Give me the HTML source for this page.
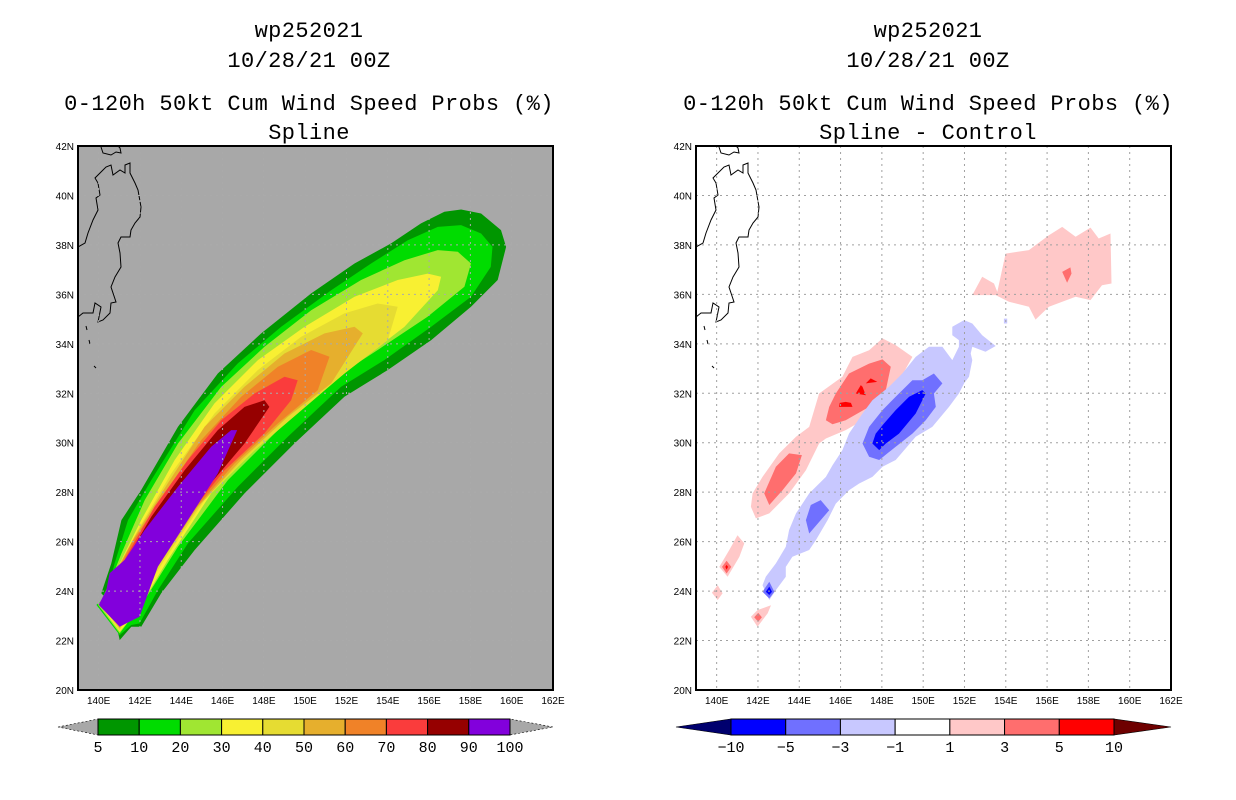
<!DOCTYPE html>
<html><head><meta charset="utf-8">
<style>
html,body{margin:0;padding:0;background:#fff;}
svg{display:block;}
text{font-family:"Liberation Mono","DejaVu Sans Mono",monospace;fill:#000;}
.ttl{font-size:22px;letter-spacing:0.4px;}
.tick{font-size:10px;font-family:"Liberation Sans",sans-serif;}
.cbl{font-size:15px;}
</style></head>
<body>
<svg id="root" width="1236" height="800" viewBox="0 0 1236 800" xmlns="http://www.w3.org/2000/svg">
<g>
<text class="ttl" x="309" y="37" text-anchor="middle">wp252021</text>
<text class="ttl" x="309" y="67" text-anchor="middle">10/28/21 00Z</text>
<text class="ttl" x="309" y="110" text-anchor="middle">0-120h 50kt Cum Wind Speed Probs (%)</text>
<text class="ttl" x="309" y="139" text-anchor="middle">Spline</text>
</g>
<g>
<text class="ttl" x="928" y="37" text-anchor="middle">wp252021</text>
<text class="ttl" x="928" y="67" text-anchor="middle">10/28/21 00Z</text>
<text class="ttl" x="928" y="110" text-anchor="middle">0-120h 50kt Cum Wind Speed Probs (%)</text>
<text class="ttl" x="928" y="139" text-anchor="middle">Spline - Control</text>
</g>
<g id="leftMap"></g>
<g id="rightMap"></g>
<g id="leftCb"></g>
<g id="rightCb"></g>
</svg>
<script>
// ---- data ----
const lonTicks = [140,142,144,146,148,150,152,154,156,158,160,162];
const latTicks = [20,22,24,26,28,30,32,34,36,38,40,42];
const probLevels = [5,10,20,30,40,50,60,70,80,90,100];
const probColors = ["#009600","#00dc00","#a0e632","#f8f032","#e6dc32","#e6af2d","#f08228","#fa3c3c","#960000","#8200dc"];
const diffLevels = [-10,-5,-3,-1,1,3,5,10];
const diffColors = ["#00006e","#0000ff","#7070ff","#c8c8ff","#ffffff","#ffc8c8","#ff6e6e","#ff0000","#6e0000"];

const prob5 = [[140.65,23.44],[141.02,22.02],[141.58,22.56],[142.06,22.56],[143.03,23.91],[144.65,25.66],[147.06,27.95],[149.48,29.97],[151.90,31.86],[154.0,32.94],[156.10,34.15],[158.03,35.50],[159.32,36.58],[159.73,37.92],[159.48,38.60],[158.52,39.27],[157.55,39.43],[156.74,39.34],[155.61,38.87],[154.16,38.06],[152.39,37.25],[150.29,36.04],[147.87,34.42],[145.77,32.80],[143.84,30.65],[142.06,28.09],[141.10,26.87],[140.61,25.12],[140.13,23.91]];
const prob10 = [[139.89,23.44],[141.02,22.22],[141.58,22.63],[141.98,22.69],[142.87,24.04],[144.32,25.93],[146.74,28.22],[149.16,30.24],[151.74,32.26],[153.83,33.34],[156.10,34.69],[158.03,35.90],[158.99,37.11],[159.07,37.92],[158.52,38.46],[157.55,38.80],[156.42,38.73],[154.97,38.19],[153.19,37.25],[151.26,36.17],[148.84,34.69],[146.74,33.21],[144.65,31.32],[142.55,28.49],[141.42,26.87],[140.77,25.12],[140.37,23.77]];
const prob20 = [[139.97,23.44],[141.02,22.29],[142.23,23.64],[143.84,25.79],[146.26,28.49],[148.68,30.51],[151.26,32.53],[153.51,33.75],[155.92,35.09],[157.71,36.31],[158.03,37.25],[157.39,37.72],[156.42,37.79],[154.81,37.38],[152.71,36.58],[150.29,35.36],[148.03,33.88],[145.94,32.26],[143.84,29.97],[142.23,27.68],[141.10,25.52],[140.53,24.31],[140.13,23.64]];
const prob30 = [[140.05,23.44],[141.02,22.36],[141.90,23.23],[143.35,25.26],[145.45,27.95],[147.87,29.97],[150.29,31.72],[152.71,33.34],[154.81,34.69],[156.42,36.17],[156.58,36.71],[155.94,36.84],[154.48,36.58],[152.39,35.90],[149.97,34.69],[147.71,33.34],[145.61,31.59],[143.68,29.30],[142.06,26.87],[140.94,24.99],[140.37,24.04]];
const prob40 = [[140.13,23.44],[141.02,22.42],[143.19,25.26],[145.13,27.68],[147.38,29.57],[149.64,31.18],[151.90,32.80],[154.0,34.15],[154.48,35.50],[153.51,35.63],[151.90,35.23],[149.80,34.28],[147.71,32.94],[145.61,31.18],[143.52,28.76],[141.90,26.47],[140.77,24.72],[140.29,23.91]];
const prob50 = [[140.21,23.44],[141.02,22.49],[142.87,24.99],[144.81,27.41],[146.90,29.30],[149.16,31.05],[151.26,32.40],[152.79,34.42],[152.39,34.69],[150.94,34.42],[149.0,33.61],[147.06,32.26],[145.13,30.65],[143.35,28.36],[141.74,26.20],[140.61,24.45]];
const prob60 = [[140.29,23.44],[141.02,22.56],[142.71,24.99],[144.48,27.14],[146.58,29.16],[148.68,30.78],[150.61,32.13],[151.18,33.48],[150.29,33.75],[148.68,33.07],[146.90,31.86],[144.97,30.11],[143.19,27.95],[141.58,25.93],[140.61,24.31]];
const prob70 = [[140.37,23.44],[141.02,22.63],[142.47,24.85],[144.16,26.87],[146.10,28.89],[148.03,30.38],[149.32,31.72],[149.64,32.53],[149.0,32.67],[147.55,31.99],[145.94,30.91],[144.32,29.30],[142.71,27.41],[141.42,25.52],[140.53,24.18]];
const prob80 = [[140.45,23.44],[141.02,22.69],[142.23,24.31],[143.52,26.20],[145.29,28.22],[147.06,29.97],[148.27,31.45],[148.03,31.72],[147.06,31.45],[145.77,30.51],[144.16,28.89],[142.55,27.01],[141.42,25.39],[140.61,24.31]];
const prob90 = [[140.0,23.44],[141.02,22.56],[141.98,22.96],[142.87,24.99],[144.32,26.87],[145.77,28.76],[146.71,30.51],[146.42,30.51],[145.45,29.84],[143.84,28.22],[142.23,26.47],[141.26,25.26],[140.53,24.72],[140.37,24.04]];

const diffPos1 = [
 [[152.38,35.97],[152.86,36.71],[153.43,36.44],[153.59,36.10],[153.99,37.65],[155.12,37.79],[156.09,38.39],[156.73,38.73],[157.38,38.33],[158.10,38.70],[158.50,38.26],[159.07,38.46],[159.12,36.44],[158.66,36.37],[158.10,35.77],[157.38,35.90],[156.09,35.50],[155.44,34.98],[155.12,35.50],[154.15,35.70],[153.51,35.97]],
 [[141.66,27.41],[141.90,26.94],[142.55,27.14],[143.51,27.95],[144.32,28.89],[144.96,29.97],[145.29,30.17],[146.25,30.51],[147.38,31.05],[148.03,31.45],[148.67,32.26],[149.48,33.47],[148.67,33.95],[148.03,34.22],[147.38,33.74],[146.58,33.47],[146.09,32.67],[144.96,31.99],[144.48,30.64],[143.84,30.24],[143.03,29.57],[142.22,28.62],[141.74,27.95]],
 [[140.13,24.98],[140.61,25.66],[141.01,26.26],[141.34,25.93],[141.10,25.39],[140.53,24.58]],
 [[139.77,23.93],[140.05,24.24],[140.29,23.91],[140.05,23.64]],
 [[141.66,22.96],[141.98,23.23],[142.63,23.43],[142.47,23.10],[141.98,22.56]]
];
const diffPos3 = [
 [[156.73,36.91],[157.13,37.09],[157.18,36.84],[156.97,36.47]],
 [[142.30,27.95],[142.55,27.48],[143.19,28.08],[143.84,28.76],[144.13,29.50],[143.51,29.57],[142.87,29.03]],
 [[145.29,30.91],[145.61,30.75],[146.25,30.91],[147.38,31.45],[148.19,32.13],[148.43,33.07],[148.03,33.37],[147.38,33.20],[146.41,32.80],[145.77,31.99],[145.45,31.45]],
 [[140.26,24.98],[140.48,25.23],[140.71,24.98],[140.48,24.71]],
 [[141.82,22.94],[142.01,23.12],[142.19,22.94],[142.01,22.76]]
];
const diffPos5 = [
 [[145.93,31.45],[146.58,31.45],[146.50,31.61],[146.25,31.65],[145.96,31.61]],
 [[146.74,31.99],[147.22,31.92],[147.06,32.26],[146.98,32.33]],
 [[147.22,32.40],[147.78,32.46],[147.46,32.60]],
 [[140.42,24.98],[140.48,25.06],[140.55,24.98],[140.48,24.87]]
];
const diffNeg1 = [
 [[142.22,24.24],[142.55,23.64],[142.87,24.04],[143.35,24.58],[143.35,24.98],[143.67,25.39],[144.48,25.66],[144.80,26.06],[145.37,26.87],[145.77,27.54],[146.41,28.08],[146.90,28.35],[147.54,28.62],[148.03,29.03],[148.67,29.30],[149.64,30.24],[150.44,30.64],[151.25,31.45],[151.73,31.99],[151.98,32.40],[152.22,32.67],[152.38,33.34],[152.30,33.61],[152.38,33.88],[153.02,33.68],[153.51,33.91],[152.86,34.35],[152.38,34.82],[151.98,34.96],[151.41,34.69],[151.41,34.35],[151.73,34.15],[151.73,33.88],[151.41,33.34],[150.93,33.88],[150.28,33.88],[149.64,33.47],[148.99,32.80],[148.35,32.26],[147.54,31.72],[147.06,31.18],[146.41,30.37],[146.09,29.70],[145.61,29.09],[145.29,28.62],[144.48,27.95],[143.84,27.14],[143.51,26.47],[143.35,25.79],[142.87,25.12],[142.38,24.58]],
 [[153.91,35.02],[154.07,35.02],[154.07,34.82],[153.91,34.82]]
];
const diffNeg3 = [
 [[144.32,26.87],[144.48,26.33],[145.45,27.27],[145.04,27.68],[144.56,27.48]],
 [[147.06,29.97],[147.38,29.43],[147.87,29.30],[148.67,29.84],[149.48,30.37],[150.12,30.91],[150.61,31.45],[150.52,31.99],[150.93,32.40],[150.52,32.80],[149.96,32.53],[149.48,32.53],[148.67,31.86],[148.03,31.32],[147.38,30.64]],
 [[142.22,23.97],[142.55,24.38],[142.79,23.97],[142.55,23.70]]
];
const diffNeg5 = [
 [[147.54,29.97],[147.87,29.70],[148.19,29.97],[148.83,30.37],[149.64,31.18],[150.12,31.99],[149.96,32.13],[149.32,31.86],[148.67,31.32],[148.11,30.78],[147.70,30.37]],
 [[142.38,23.97],[142.55,24.18],[142.68,23.97],[142.55,23.84]]
];

// ---- drawing ----
const NS = "http://www.w3.org/2000/svg";
function mk(tag, attrs, parent){const e=document.createElementNS(NS,tag);for(const k in attrs)e.setAttribute(k,attrs[k]);parent.appendChild(e);return e;}
const LON0=139, LON1=162, LAT0=20, LAT1=42, PH=544, PY=146, PW=475;
function makeProj(x0){
  return {
    x: lon => x0 + (lon-LON0)/(LON1-LON0)*PW,
    y: lat => PY + PH - (lat-LAT0)/(LAT1-LAT0)*PH
  };
}
function polyPts(p, pr){return p.map(d=>pr.x(d[0]).toFixed(1)+","+pr.y(d[1]).toFixed(1)).join(" ");}

const coast = "M78,247 L85,243 L88,233 L93,220 L98,210 L96,198 L100,195 L98,183 L95,178 L101,172 L106,167 L111,165 L113,175 L120,170 L125,173 L125,165 L130,163 L130,173 L135,183 L138,190 L141,207 L140,217 L135,223 L131,230 L130,237 L121,237 L118,243 L120,253 L121,267 L115,277 L111,287 L116,302 L111,303 L110,313 L103,320 L98,322 L101,307 L95,303 L93,313 L83,313 L78,317 M101,147 L103,153 L111,155 L116,152 L121,153 L120,148 L118,146 M86,326 L87,330 M89,340 L90,344 M94,366 L96,368";

function drawPanel(g, x0, bg, gridColor, drawData){
  const pr = makeProj(x0);
  const clipId = "clip"+x0;
  const cp = mk("clipPath",{id:clipId},g);
  mk("rect",{x:x0,y:PY,width:PW,height:PH},cp);
  const bgr = mk("rect",{x:x0,y:PY,width:PW,height:PH,fill:bg},g);
  
  
  const dg = mk("g",{"clip-path":"url(#"+clipId+")"},g);
  
  
  drawData(dg, pr);
  const cst = mk("path",{d:coast,fill:"none",stroke:"#000","stroke-width":1,transform:"translate("+(x0-78)+",0)"},dg);
  
  
  const gg = mk("g",{stroke:gridColor,"stroke-width":1,"stroke-dasharray":"2,4"},g);
  
  
  lonTicks.forEach(l=>{ if(l>LON0&&l<LON1) mk("line",{x1:pr.x(l),x2:pr.x(l),y1:PY,y2:PY+PH},gg);});
  latTicks.forEach(l=>{ if(l>LAT0&&l<LAT1) mk("line",{x1:x0,x2:x0+PW,y1:pr.y(l),y2:pr.y(l)},gg);});
  const fr = mk("rect",{x:x0,y:PY,width:PW,height:PH,fill:"none",stroke:"#000","stroke-width":2},g);
  
  
  lonTicks.forEach(l=>{
    const t=mk("text",{x:pr.x(l),y:PY+PH+14,"text-anchor":"middle",class:"tick"},g);
    t.textContent=l+"E";
    
    
  });
  latTicks.forEach(l=>{
    const t=mk("text",{x:x0-4,y:pr.y(l)+4,"text-anchor":"end",class:"tick"},g);
    t.textContent=l+"N";
    
    
  });
}

drawPanel(document.getElementById("leftMap"), 78, "#a8a8a8", "#aaaaaa", (dg,pr)=>{
  const sets=[prob5,prob10,prob20,prob30,prob40,prob50,prob60,prob70,prob80,prob90];
  sets.forEach((p,i)=>{
    const e=mk("polygon",{points:polyPts(p,pr),fill:probColors[i]},dg);
    
    
  });
});
drawPanel(document.getElementById("rightMap"), 696, "#ffffff", "#a0a0a0", (dg,pr)=>{
  const groups=[[diffPos1,5],[diffPos3,6],[diffPos5,7],[diffNeg1,3],[diffNeg3,2],[diffNeg5,1]];
  groups.forEach(([arr,ci])=>{
    arr.forEach(p=>{
      const e=mk("polygon",{points:polyPts(p,pr),fill:diffColors[ci]},dg);
      
      
    });
  });
});

function drawColorbar(g, tipL, bx0, bx1, tipR, colors, labels, leftCol, rightCol){
  const y0=719,y1=735,ym=727;
  const n=colors.length, w=(bx1-bx0)/n;
  const lt=mk("polygon",{points:tipL+","+ym+" "+bx0+","+y0+" "+bx0+","+y1,fill:leftCol,stroke:"#000","stroke-width":0.6,"stroke-dasharray":leftCol=="#a8a8a8"?"2,2":""},g);
  
  
  const rt=mk("polygon",{points:tipR+","+ym+" "+bx1+","+y0+" "+bx1+","+y1,fill:rightCol,stroke:"#000","stroke-width":0.6,"stroke-dasharray":rightCol=="#a8a8a8"?"2,2":""},g);
  
  
  colors.forEach((c,i)=>{
    const r=mk("rect",{x:bx0+i*w,y:y0,width:w,height:y1-y0,fill:c,stroke:"#000","stroke-width":1},g);
    
    
  });
  labels.forEach((l,i)=>{
    const t=mk("text",{x:bx0+i*w,y:752,"text-anchor":"middle",class:"cbl"},g);
    t.textContent=String(l).replace("-","\u2212");
    
    
  });
}
drawColorbar(document.getElementById("leftCb"),58,98,510,553,probColors,probLevels,"#a8a8a8","#a8a8a8");
drawColorbar(document.getElementById("rightCb"),676,731,1114,1171,diffColors.slice(1,8),diffLevels,diffColors[0],diffColors[8]);
</script>
</body></html>
